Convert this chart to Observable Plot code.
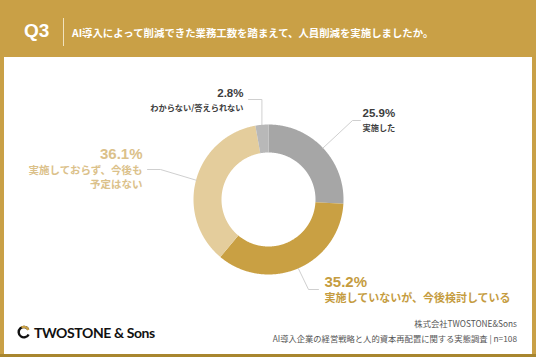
<!DOCTYPE html>
<html><head><meta charset="utf-8">
<script src="https://cdn.jsdelivr.net/npm/d3@7"></script>
<script src="https://cdn.jsdelivr.net/npm/@observablehq/plot@0.6"></script>
<style>
html,body{margin:0;padding:0;}
body{width:536px;height:357px;background:#c9a046;position:relative;overflow:hidden;font-family:"Noto Sans CJK JP","Noto Sans",sans-serif;}
#bottomline{position:absolute;left:0;top:354px;width:536px;height:3px;background:#a8862f;}
#panel{position:absolute;left:4px;top:57px;width:528px;height:297px;background:#fff;}
#q{position:absolute;left:24px;top:20px;height:26px;line-height:26px;font:bold 19px "Liberation Sans",Arial,sans-serif;color:#fff;}
#vbar{position:absolute;left:62.5px;top:18px;width:1px;height:28px;background:#f1e2bd;}
#title{position:absolute;left:72px;top:22px;height:22px;line-height:22px;font-weight:bold;font-size:10.4px;color:#fff;white-space:nowrap;}
#logo{position:absolute;left:17px;top:322px;height:20px;display:flex;align-items:center;}
#logo span{font-family:Lato,"Open Sans",sans-serif;font-weight:bold;font-size:14px;color:#111;letter-spacing:-0.4px;margin-left:3px;}
#src{position:absolute;right:19px;top:316px;text-align:right;font-size:8.3px;line-height:15px;color:#555;white-space:nowrap;}
</style>
</head><body>
<div id="panel"></div>
<div id="bottomline"></div>
<div id="q">Q3</div>
<div id="vbar"></div>
<div id="title">AI導入によって削減できた業務工数を踏まえて、人員削減を実施しましたか。</div>
<div id="logo"><svg width="14" height="14" viewBox="0 0 14 14"><path d="M11.2 4.2 A5.2 5.2 0 1 0 11.6 9.4" fill="none" stroke="#111" stroke-width="2.4"/><path d="M4.5 2.3 A5.2 5.2 0 0 1 11.4 5.0" fill="none" stroke="#c9a046" stroke-width="2.4"/></svg><span>TWOSTONE &amp; Sons</span></div>
<div id="src">株式会社TWOSTONE&amp;Sons<br>AI導入企業の経営戦略と人的資本再配置に関する実態調査 | n=108</div>
<script>
// ---- data ----
const categories = ["実施した", "実施していないが、今後検討している", "実施しておらず、今後も予定はない", "わからない/答えられない"];
const values = [25.9, 35.2, 36.1, 2.8];
const labelLines = [["実施した"], ["実施していないが、今後検討している"], ["実施しておらず、今後も", "予定はない"], ["わからない/答えられない"]];
const palette = ["#a6a6a6", "#c9a043", "#e4cd9c", "#b8b8b8"];
const textColors = ["#3d3d3d", "#c59c3f", "#dbc18a", "#3d3d3d"];

// ---- layout (panel pixel space) ----
const W = 528, H = 297;
const cx = 264, cy = 142, R = 75, r = 47;
const labelLayout = [
  {elbow: [348, 63], end: [356, 63], tx: 358, pctY: 56, subY: 70.5, anchor: "start", pctSize: 11.5, subSize: 8.2, gap: 0},
  {elbow: [304, 232], end: [314, 232], tx: 320, pctY: 224.5, subY: 240.5, anchor: "start", pctSize: 15, subSize: 11, gap: 0},
  {elbow: [156, 112], end: [143, 112], tx: 138, pctY: 96.5, subY: 113.5, anchor: "end", pctSize: 15, subSize: 10.5, gap: 13.5},
  {elbow: [null, 42], end: [244, 42], tx: 239, pctY: 36, subY: 50.5, anchor: "end", pctSize: 11.5, subSize: 8.2, gap: 0}
];

const rows = categories.map((c, i) => ({category: c, value: values[i], i}));
const arcs = d3.pie().sort(null).value(d => d.value)(rows);

const pt = (a, rad) => [cx + rad * Math.sin(a), cy - rad * Math.cos(a)];

const polys = [];
arcs.forEach(a => {
  const n = Math.max(2, Math.ceil((a.endAngle - a.startAngle) / 0.01));
  for (let k = 0; k <= n; k++) {
    const t = a.startAngle + (a.endAngle - a.startAngle) * k / n;
    const [x, y] = pt(t, R);
    polys.push({category: a.data.category, x, y});
  }
  for (let k = n; k >= 0; k--) {
    const t = a.startAngle + (a.endAngle - a.startAngle) * k / n;
    const [x, y] = pt(t, r);
    polys.push({category: a.data.category, x, y});
  }
});

const leaders = [];
arcs.forEach((a, i) => {
  const L = labelLayout[i];
  const mid = (a.startAngle + a.endAngle) / 2;
  const [sx, sy] = pt(mid, R);
  const ex = L.elbow[0] == null ? sx : L.elbow[0];
  leaders.push({id: i, x: sx, y: sy}, {id: i, x: ex, y: L.elbow[1]}, {id: i, x: L.end[0], y: L.end[1]});
});

const marks = [
  Plot.line(polys, {x: "x", y: "y", z: "category", fill: "category", stroke: "none", curve: "linear"}),
  Plot.line(leaders, {x: "x", y: "y", z: "id", stroke: "#c9c9c9", strokeWidth: 0.9})
];
arcs.forEach((a, i) => {
  const L = labelLayout[i];
  const pctRow = [{x: L.tx, y: L.pctY, t: a.data.value.toFixed(1) + "%"}];
  const subRows = labelLines[i].map((s, k) => ({x: L.tx, y: L.subY + k * L.gap, t: s}));
  marks.push(Plot.text(pctRow, {x: "x", y: "y", text: "t", textAnchor: L.anchor, fill: textColors[i], fontSize: L.pctSize, fontWeight: "bold", fontFamily: "'Liberation Sans', Arial, sans-serif"}));
  marks.push(Plot.text(subRows, {x: "x", y: "y", text: "t", textAnchor: L.anchor, fill: textColors[i], fontSize: L.subSize, fontWeight: "bold", fontFamily: "'Noto Sans CJK JP', sans-serif"}));
});

const chart = Plot.plot({
  width: W, height: H,
  margin: 0,
  x: {domain: [0, W], range: [0, W], axis: null},
  y: {domain: [0, H], range: [0, H], axis: null},
  color: {domain: categories, range: palette},
  style: {background: "transparent", overflow: "visible"},
  marks
});
chart.style.position = "absolute";
chart.style.left = "0px";
chart.style.top = "0px";
document.getElementById("panel").appendChild(chart);
</script>
</body></html>
